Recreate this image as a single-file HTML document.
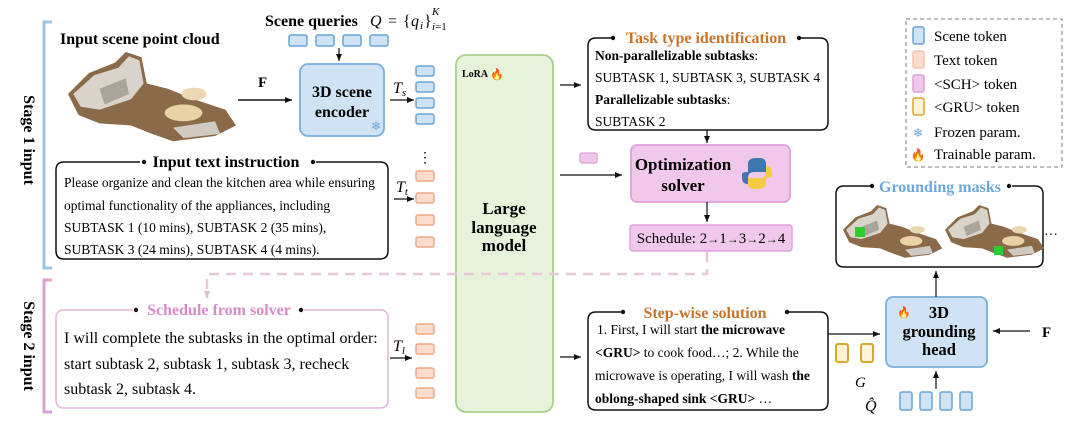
<!DOCTYPE html>
<html><head><meta charset="utf-8"><style>
html,body{margin:0;padding:0;background:#fff;}
svg{display:block;font-family:"Liberation Serif",serif;}
</style></head><body>
<svg width="1080" height="426" viewBox="0 0 1080 426" xmlns="http://www.w3.org/2000/svg">
<defs>
<marker id="ar" markerWidth="8" markerHeight="8" refX="7" refY="4" orient="auto" markerUnits="userSpaceOnUse"><path d="M0,1 L7,4 L0,7 Z" fill="#111"/></marker>
<marker id="arp" markerWidth="8" markerHeight="8" refX="7" refY="4" orient="auto" markerUnits="userSpaceOnUse"><path d="M0,1 L7,4 L0,7 Z" fill="#e0b7d2"/></marker>
<g id="scene">
<path d="M0,40 L20,20 L45,10 L55,0 L70,5 L75,30 L95,35 L120,45 L150,55 L160,70 L140,80 L100,85 L80,78 L60,70 L30,68 L10,60 Z" fill="#8a6a48"/>
<path d="M5,40 L25,22 L48,15 L58,4 L68,8 L72,30 L60,45 L30,55 L12,52 Z" fill="#d8d4cc"/>
<path d="M30,35 L55,25 L58,40 L35,50 Z" fill="#a9a59c"/>
<ellipse cx="110" cy="58" rx="18" ry="8" fill="#e8d2a6"/>
<ellipse cx="120" cy="40" rx="12" ry="6" fill="#e9d8b0"/>
<path d="M100,72 L140,66 L145,78 L110,82 Z" fill="#cfcac2"/>
</g>
</defs>

<path d="M52,22 L44,22 L44,268 L52,268" fill="none" stroke="#9cc4e4" stroke-width="3"/>
<path d="M52,280 L44,280 L44,412 L52,412" fill="none" stroke="#d9a0d0" stroke-width="3"/>
<text transform="translate(24,140) rotate(90)" text-anchor="middle" font-weight="bold" font-size="16">Stage 1 input</text>
<text transform="translate(24,346) rotate(90)" text-anchor="middle" font-weight="bold" font-size="16">Stage 2 input</text>

<text x="60" y="44" font-weight="bold" font-size="16">Input scene point cloud</text>
<use href="#scene" transform="translate(68,52) scale(1.05)"/>
<line x1="238" y1="100" x2="292" y2="100" stroke="#111" stroke-width="1.5" marker-end="url(#ar)"/>
<text x="258" y="87" font-weight="bold" font-size="15">F</text>

<text x="265" y="26" font-weight="bold" font-size="16">Scene queries</text>
<g font-size="16">
<text x="370" y="26" font-style="italic">Q</text>
<text x="388" y="26">=</text>
<text x="403" y="26">{</text>
<text x="411" y="26" font-style="italic">q</text>
<text x="420" y="29" font-style="italic" font-size="11">i</text>
<text x="424" y="26">}</text>
<text x="432" y="15" font-style="italic" font-size="11">K</text>
<text x="432" y="30" font-size="11"><tspan font-style="italic">i</tspan>=1</text>
</g>
<g fill="#cfe3f5" stroke="#6aa4d6" stroke-width="1.5">
<rect x="289" y="35" width="18" height="11" rx="2"/><rect x="316" y="35" width="18" height="11" rx="2"/><rect x="343" y="35" width="18" height="11" rx="2"/><rect x="370" y="35" width="18" height="11" rx="2"/>
</g>
<line x1="339" y1="48" x2="339" y2="61" stroke="#111" stroke-width="1.2" marker-end="url(#ar)"/>

<rect x="300" y="64" width="84" height="72" rx="8" fill="#cfe3f5" stroke="#7aaedc" stroke-width="1.8"/>
<text x="342" y="97" text-anchor="middle" font-weight="bold" font-size="16">3D scene</text>
<text x="342" y="117" text-anchor="middle" font-weight="bold" font-size="16">encoder</text>
<text x="376" y="130" text-anchor="middle" font-size="12" fill="#6aa4d6">❄</text>

<line x1="390" y1="100" x2="414" y2="100" stroke="#111" stroke-width="1.2" marker-end="url(#ar)"/>
<text x="393" y="93" font-style="italic" font-size="16">T<tspan font-size="11" dy="3">s</tspan></text>
<g fill="#cfe3f5" stroke="#6aa4d6" stroke-width="1.5">
<rect x="416" y="66" width="18" height="10" rx="2"/><rect x="416" y="82" width="18" height="10" rx="2"/><rect x="416" y="98" width="18" height="10" rx="2"/><rect x="416" y="114" width="18" height="10" rx="2"/>
</g>
<text x="425" y="162" text-anchor="middle" font-size="14">⋮</text>
<g fill="#fbdccd" stroke="#eea98a" stroke-width="1.5">
<rect x="416" y="171" width="18" height="10" rx="2"/><rect x="416" y="193" width="18" height="10" rx="2"/><rect x="416" y="215" width="18" height="10" rx="2"/><rect x="416" y="237" width="18" height="10" rx="2"/>
</g>
<line x1="394" y1="199" x2="414" y2="199" stroke="#111" stroke-width="1.2" marker-end="url(#ar)"/>
<text x="396" y="192" font-style="italic" font-size="16">T<tspan font-size="11" dy="3">t</tspan></text>

<path d="M140,162 L64,162 Q56,162 56,170 L56,251 Q56,259 64,259 L380,259 Q388,259 388,251 L388,170 Q388,162 380,162 L316,162" fill="none" stroke="#111" stroke-width="1.5"/>
<circle cx="144" cy="162" r="2.2" fill="#111"/><circle cx="313" cy="162" r="2.2" fill="#111"/>
<text x="226" y="167" text-anchor="middle" font-weight="bold" font-size="16">Input text instruction</text>
<g font-size="13.5">
<text x="64" y="187">Please organize and clean the kitchen area while ensuring</text>
<text x="64" y="210">optimal functionality of the appliances, including</text>
<text x="64" y="232">SUBTASK 1 (10 mins), SUBTASK 2 (35 mins),</text>
<text x="64" y="254">SUBTASK 3 (24 mins), SUBTASK 4 (4 mins).</text>
</g>

<rect x="456" y="55" width="97" height="357" rx="10" fill="#e6f2da" stroke="#a8d08d" stroke-width="1.8"/>
<text x="462" y="77" font-weight="bold" font-size="10">LoRA</text>
<text x="490" y="78" font-size="11" fill="#f06a22">🔥</text>
<g font-weight="bold" font-size="17" text-anchor="middle">
<text x="504" y="214">Large</text><text x="504" y="233">language</text><text x="504" y="251">model</text>
</g>

<line x1="560" y1="85" x2="581" y2="85" stroke="#111" stroke-width="1.2" marker-end="url(#ar)"/>
<line x1="560" y1="175" x2="622" y2="175" stroke="#111" stroke-width="1.2" marker-end="url(#ar)"/>
<line x1="560" y1="357" x2="581" y2="357" stroke="#111" stroke-width="1.2" marker-end="url(#ar)"/>

<path d="M611,38 L596,38 Q588,38 588,46 L588,122 Q588,130 596,130 L820,130 Q828,130 828,122 L828,46 Q828,38 820,38 L800,38" fill="none" stroke="#111" stroke-width="1.5"/>
<circle cx="613" cy="38" r="2.2" fill="#111"/><circle cx="799" cy="38" r="2.2" fill="#111"/>
<text x="706" y="43" text-anchor="middle" font-weight="bold" font-size="16" fill="#c8742a">Task type identification</text>
<g font-size="13.5">
<text x="595" y="60" font-weight="bold">Non-parallelizable subtasks<tspan font-weight="normal">:</tspan></text>
<text x="595" y="82">SUBTASK 1, SUBTASK 3, SUBTASK 4</text>
<text x="595" y="104" font-weight="bold">Parallelizable subtasks<tspan font-weight="normal">:</tspan></text>
<text x="595" y="126">SUBTASK 2</text>
</g>
<line x1="707" y1="130" x2="707" y2="143" stroke="#111" stroke-width="1.2" marker-end="url(#ar)"/>

<rect x="580" y="153" width="17" height="10" rx="2" fill="#f0c8ec" stroke="#dda0d8" stroke-width="1.3"/>

<rect x="631" y="145" width="159" height="57" rx="6" fill="#f0c8ec" stroke="#dda0d8" stroke-width="1.8"/>
<text x="683" y="170" text-anchor="middle" font-weight="bold" font-size="17">Optimization</text>
<text x="683" y="191" text-anchor="middle" font-weight="bold" font-size="17">solver</text>
<path d="M748,172 L748,164 Q748,158 756,158 L760,158 Q766,158 766,164 L766,172 L754,172 Q748,172 748,178 L748,184 Q742,184 742,178 L742,174 Q742,172 748,172Z" fill="#3c77b0"/>
<path d="M766,174 L766,182 Q766,189 758,189 L754,189 Q748,189 748,183 L748,178 L760,178 Q766,178 766,172 L766,166 Q772,166 772,172 L772,176 Q772,178 766,178Z" fill="#f5cc40"/>
<line x1="707" y1="202" x2="707" y2="222" stroke="#111" stroke-width="1.2" marker-end="url(#ar)"/>

<rect x="630" y="225" width="162" height="26" rx="3" fill="#f0c8ec" stroke="#dda0d8" stroke-width="1.5"/>
<text x="711" y="243" text-anchor="middle" font-size="15">Schedule: 2<tspan font-size="12">→</tspan>1<tspan font-size="12">→</tspan>3<tspan font-size="12">→</tspan>2<tspan font-size="12">→</tspan>4</text>

<path d="M707,252 L707,274 L207,274 L207,298" fill="none" stroke="#e6c8da" stroke-width="2.5" stroke-dasharray="10,7" marker-end="url(#arp)"/>

<path d="M133,310 L64,310 Q56,310 56,318 L56,400 Q56,408 64,408 L380,408 Q388,408 388,400 L388,318 Q388,310 380,310 L304,310" fill="none" stroke="#e0b7d8" stroke-width="1.5"/>
<circle cx="136" cy="310" r="2.2" fill="#111"/><circle cx="301" cy="310" r="2.2" fill="#111"/>
<text x="219" y="315" text-anchor="middle" font-weight="bold" font-size="16" fill="#d98acb">Schedule from solver</text>
<g font-size="16">
<text x="64" y="343">I will complete the subtasks in the optimal order:</text>
<text x="64" y="369">start subtask 2, subtask 1, subtask 3, recheck</text>
<text x="64" y="394">subtask 2, subtask 4.</text>
</g>
<line x1="390" y1="358" x2="412" y2="358" stroke="#111" stroke-width="1.2" marker-end="url(#ar)"/>
<text x="393" y="351" font-style="italic" font-size="16">T<tspan font-size="11" dy="3">l</tspan></text>
<g fill="#fbdccd" stroke="#eea98a" stroke-width="1.5">
<rect x="416" y="324" width="18" height="10" rx="2"/><rect x="416" y="344" width="18" height="10" rx="2"/><rect x="416" y="368" width="18" height="10" rx="2"/><rect x="416" y="388" width="18" height="10" rx="2"/>
</g>

<path d="M621,312 L596,312 Q588,312 588,320 L588,402 Q588,410 596,410 L820,410 Q828,410 828,402 L828,320 Q828,312 820,312 L789,312" fill="none" stroke="#111" stroke-width="1.5"/>
<circle cx="623" cy="312" r="2.2" fill="#111"/><circle cx="787" cy="312" r="2.2" fill="#111"/>
<text x="705" y="318" text-anchor="middle" font-weight="bold" font-size="16" fill="#c8742a">Step-wise solution</text>
<g font-size="13.5">
<text x="597" y="334">1. First, I will start <tspan font-weight="bold">the microwave</tspan></text>
<text x="595" y="357"><tspan font-weight="bold">&lt;GRU&gt;</tspan> to cook food…; 2. While the</text>
<text x="595" y="380">microwave is operating, I will wash <tspan font-weight="bold">the</tspan></text>
<text x="595" y="403" font-weight="bold">oblong-shaped sink &lt;GRU&gt; <tspan font-weight="normal">…</tspan></text>
</g>
<line x1="828" y1="334" x2="880" y2="334" stroke="#111" stroke-width="1.2" marker-end="url(#ar)"/>
<g fill="#fdf3d6" stroke="#d9a82a" stroke-width="2">
<rect x="836" y="344" width="12" height="18" rx="2"/><rect x="861" y="344" width="12" height="18" rx="2"/>
</g>
<text x="855" y="387" font-style="italic" font-size="15">G</text>

<rect x="886" y="297" width="101" height="70" rx="7" fill="#cfe3f5" stroke="#7aaedc" stroke-width="1.8"/>
<text x="897" y="316" font-size="11" fill="#f06a22">🔥</text>
<g font-weight="bold" font-size="16.5" text-anchor="middle">
<text x="939" y="318">3D</text><text x="939" y="337">grounding</text><text x="939" y="355">head</text>
</g>
<line x1="1030" y1="331" x2="993" y2="331" stroke="#111" stroke-width="1.2" marker-end="url(#ar)"/>
<text x="1042" y="337" font-weight="bold" font-size="15">F</text>
<line x1="936" y1="389" x2="936" y2="371" stroke="#111" stroke-width="1.2" marker-end="url(#ar)"/>
<text x="865" y="411" font-style="italic" font-size="16">Q̂</text>
<g fill="#cfe3f5" stroke="#6aa4d6" stroke-width="1.5">
<rect x="900" y="392" width="12" height="18" rx="2"/><rect x="920" y="392" width="12" height="18" rx="2"/><rect x="940" y="392" width="12" height="18" rx="2"/><rect x="960" y="392" width="12" height="18" rx="2"/>
</g>
<line x1="936" y1="297" x2="936" y2="271" stroke="#111" stroke-width="1.2" marker-end="url(#ar)"/>

<path d="M870,186 L844,186 Q836,186 836,194 L836,259 Q836,267 844,267 L1035,267 Q1043,267 1043,259 L1043,194 Q1043,186 1035,186 L1012,186" fill="none" stroke="#111" stroke-width="1.5"/>
<circle cx="872" cy="186" r="2.2" fill="#111"/><circle cx="1009" cy="186" r="2.2" fill="#111"/>
<text x="940" y="192" text-anchor="middle" font-weight="bold" font-size="16" fill="#6fa8d8">Grounding masks</text>
<use href="#scene" transform="translate(843,205) scale(0.62)"/>
<rect x="855" y="227" width="10" height="10" fill="#2ecc2e"/>
<use href="#scene" transform="translate(945,205) scale(0.62)"/>
<rect x="994" y="246" width="9" height="9" fill="#2ecc2e"/>
<text x="1044" y="235" font-size="14">…</text>

<rect x="906" y="19" width="156" height="148" fill="#fff" stroke="#999" stroke-width="1.3" stroke-dasharray="4,3"/>
<g stroke-width="1.5">
<rect x="913" y="27" width="11" height="17" rx="2" fill="#cfe3f5" stroke="#6aa4d6"/>
<rect x="913" y="51" width="11" height="17" rx="2" fill="#fbdccd" stroke="#f3c4ad"/>
<rect x="913" y="75" width="11" height="17" rx="2" fill="#f0c8ec" stroke="#dda0d8"/>
<rect x="913" y="98" width="11" height="17" rx="2" fill="#fdf3d6" stroke="#d9a82a"/>
</g>
<text x="918" y="137" text-anchor="middle" font-size="12" fill="#6aa4d6">❄</text>
<text x="918" y="159" text-anchor="middle" font-size="12" fill="#f06a22">🔥</text>
<g font-size="15">
<text x="934" y="41">Scene token</text>
<text x="934" y="65">Text token</text>
<text x="934" y="89">&lt;SCH&gt; token</text>
<text x="934" y="112">&lt;GRU&gt; token</text>
<text x="934" y="137">Frozen param.</text>
<text x="934" y="159">Trainable param.</text>
</g>
</svg>
</body></html>
